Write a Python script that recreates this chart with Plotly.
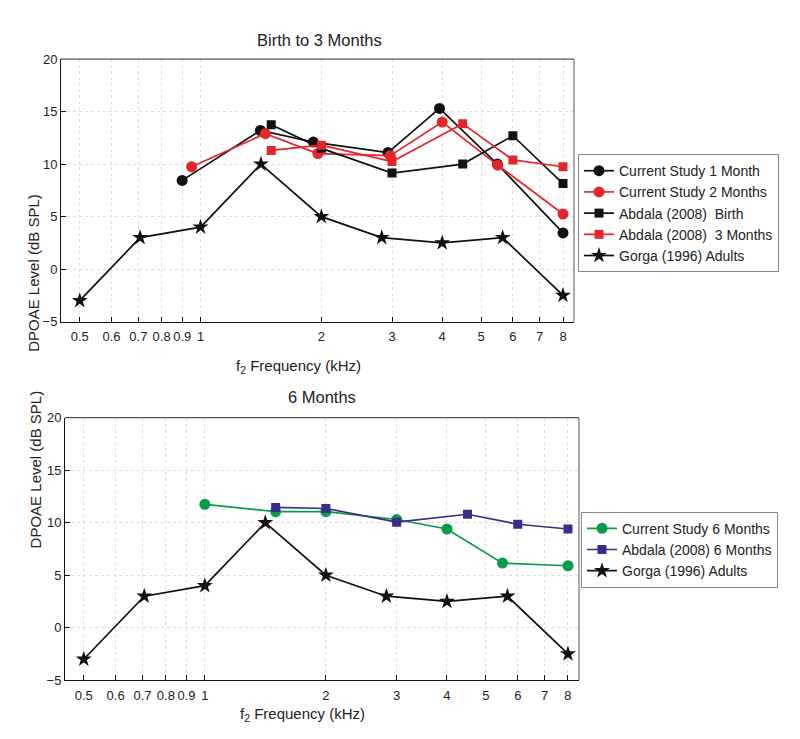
import plotly.graph_objects as go

# ---------------- data ----------------
# Top panel: Birth to 3 Months
cs1_f = [0.90, 1.41, 1.91, 2.93, 3.94, 5.49, 8.0]
cs1_v = [8.45, 13.2, 12.1, 11.1, 15.3, 10.0, 3.45]
cs2_f = [0.95, 1.45, 1.96, 2.97, 4.0, 5.5, 8.0]
cs2_v = [9.75, 12.9, 11.0, 10.8, 14.0, 9.9, 5.25]
ab0_f = [1.5, 2.0, 3.0, 4.5, 6.0, 8.0]
ab0_v = [13.75, 11.5, 9.15, 10.0, 12.7, 8.15]
ab3_f = [1.5, 2.0, 3.0, 4.5, 6.0, 8.0]
ab3_v = [11.3, 11.8, 10.25, 13.85, 10.4, 9.75]
gorga_f = [0.5, 0.707, 1.0, 1.414, 2.0, 2.828, 4.0, 5.657, 8.0]
gorga_v = [-3, 3, 4, 10, 5, 3, 2.5, 3, -2.5]
# Bottom panel: 6 Months
cs6_f = [1.0, 1.5, 2.0, 3.0, 4.0, 5.5, 8.0]
cs6_v = [11.75, 11.05, 11.05, 10.3, 9.4, 6.15, 5.9]
ab6_f = [1.5, 2.0, 3.0, 4.5, 6.0, 8.0]
ab6_v = [11.45, 11.35, 10.05, 10.8, 9.85, 9.4]

x_tickvals = [0.5, 0.6, 0.7, 0.8, 0.9, 1, 2, 3, 4, 5, 6, 7, 8]
x_ticktext = ["0.5", "0.6", "0.7", "0.8", "0.9", "1", "2", "3", "4", "5", "6", "7", "8"]
y_tickvals = [-5, 0, 5, 10, 15, 20]

BLACK = "#111111"
RED = "#E4262B"
GREEN = "#0A9B48"
PURPLE = "#3D2B8C"
FONT = "Arial, 'Liberation Sans', sans-serif"

fig = go.Figure()

def add(f, v, name, color, symbol, size, xa, ya, legend):
    fig.add_trace(go.Scatter(
        x=f, y=v, name=name, mode="lines+markers",
        line=dict(color=color, width=1.7),
        marker=dict(symbol=symbol, size=size, color=color, line=dict(width=0)),
        xaxis=xa, yaxis=ya, legend=legend))

add(cs1_f, cs1_v, "Current Study 1 Month", BLACK, "circle", 11, "x", "y", "legend")
add(cs2_f, cs2_v, "Current Study 2 Months", RED, "circle", 11, "x", "y", "legend")
add(ab0_f, ab0_v, "Abdala (2008)\u00a0 Birth", BLACK, "square", 9, "x", "y", "legend")
add(ab3_f, ab3_v, "Abdala (2008)\u00a0 3 Months", RED, "square", 9, "x", "y", "legend")
add(gorga_f, gorga_v, "Gorga (1996) Adults", BLACK, "star", 12, "x", "y", "legend")

add(cs6_f, cs6_v, "Current Study 6 Months", GREEN, "circle", 11, "x2", "y2", "legend2")
add(ab6_f, ab6_v, "Abdala (2008) 6 Months", PURPLE, "square", 9, "x2", "y2", "legend2")
add(gorga_f, gorga_v, "Gorga (1996) Adults", BLACK, "star", 12, "x2", "y2", "legend2")

W, H = 800, 739
def px(x):
    return x / W
def py(y):
    return 1 - y / H

xcommon = dict(type="log", range=[-0.3477, 0.9305], tickvals=x_tickvals, ticktext=x_ticktext,
               ticks="inside", ticklen=5, tickcolor=BLACK, showline=True, linecolor=BLACK, linewidth=1,
               showgrid=True, gridcolor="#dedede", griddash="dot", gridwidth=1, zeroline=False,
               ticklabelstandoff=3,
               tickfont=dict(size=13, color="#222", family=FONT))
ycommon = dict(range=[-5, 20], tickvals=y_tickvals, ticks="inside", ticklen=5, tickcolor=BLACK,
               showline=True, linecolor=BLACK, linewidth=1, showgrid=True, gridcolor="#dedede",
               griddash="dot", gridwidth=1, zeroline=False,
               tickfont=dict(size=13, color="#222", family=FONT))

fig.update_layout(
    width=W, height=H, margin=dict(l=0, r=0, t=0, b=0),
    paper_bgcolor="white", plot_bgcolor="white",
    font=dict(family=FONT, size=13, color="#222"),
    xaxis=dict(domain=[px(53), px(566)], anchor="y", **xcommon),
    yaxis=dict(domain=[py(313), py(45)], anchor="x", **ycommon),
    xaxis2=dict(domain=[px(57), px(571)], anchor="y2", **xcommon),
    yaxis2=dict(domain=[py(679), py(411)], anchor="x2", **ycommon),
    legend=dict(x=px(570), y=py(142), xanchor="left", yanchor="top", bordercolor="#888",
                borderwidth=1, bgcolor="white", font=dict(size=14, family=FONT, color="#222"),
                tracegroupgap=0, itemwidth=30),
    legend2=dict(x=px(573), y=py(507), xanchor="left", yanchor="top", bordercolor="#888",
                 borderwidth=1, bgcolor="white", font=dict(size=14, family=FONT, color="#222"),
                 tracegroupgap=0, itemwidth=30),
    showlegend=True,
)

# top/right frame lines
for xr, yr in (("x", "y"), ("x2", "y2")):
    fig.add_shape(type="line", xref=f"{xr} domain", yref=f"{yr} domain", x0=0, x1=1, y0=1, y1=1,
                  line=dict(color="#555", width=1.2))
    fig.add_shape(type="line", xref=f"{xr} domain", yref=f"{yr} domain", x0=1, x1=1, y0=0, y1=1,
                  line=dict(color="#555", width=1))

ann = []
ann.append(dict(text="Birth to 3 Months", x=px(311), y=py(14), xref="paper", yref="paper",
                showarrow=False, font=dict(size=16.5, family=FONT, color="#222")))
ann.append(dict(text="6 Months", x=px(314), y=py(390), xref="paper", yref="paper",
                showarrow=False, font=dict(size=16.5, family=FONT, color="#222")))
ann.append(dict(text="f<sub>2</sub> Frequency (kHz)", x=px(290), y=py(359), xref="paper", yref="paper",
                showarrow=False, font=dict(size=15, family=FONT, color="#222")))
ann.append(dict(text="f<sub>2</sub> Frequency (kHz)", x=px(294), y=py(726), xref="paper", yref="paper",
                showarrow=False, font=dict(size=15, family=FONT, color="#222")))
ann.append(dict(text="DPOAE Level (dB SPL)", x=px(15), y=py(181), xref="paper", yref="paper",
                showarrow=False, textangle=-90, font=dict(size=15, family=FONT, color="#222")))
ann.append(dict(text="DPOAE Level (dB SPL)", x=px(17), y=py(547), xref="paper", yref="paper",
                showarrow=False, textangle=-90, font=dict(size=15, family=FONT, color="#222")))
fig.update_layout(annotations=ann)

fig.write_html("out.html")
